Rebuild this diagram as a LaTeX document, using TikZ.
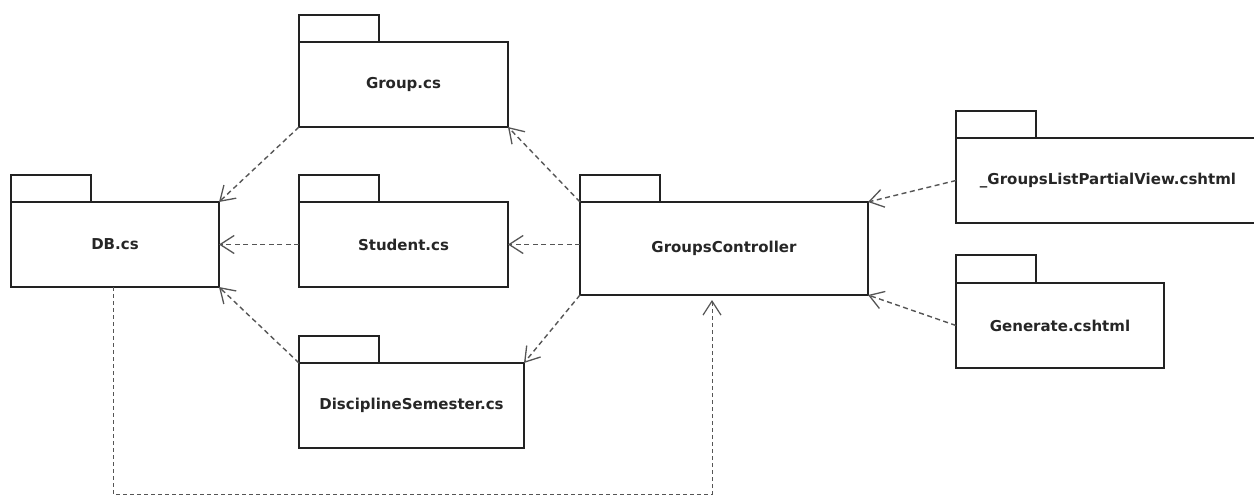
\documentclass[tikz,border=0pt]{standalone}
\usepackage{fontspec}
\setmainfont{DejaVu Sans}
\usetikzlibrary{arrows.meta}

\definecolor{edge}{HTML}{222222}
\definecolor{depline}{HTML}{555555}

\tikzset{
  pkg/.style={draw=edge, line width=1.3pt, rectangle, inner sep=0pt, outer sep=0pt,
    font=\fontsize{15}{18}\selectfont\bfseries, text=black!85},
  tab/.style={draw=edge, line width=1.3pt},
  dep/.style={draw=depline, line width=1.4pt, dash pattern=on 5pt off 3.5pt,
    -{Straight Barb[length=14pt,width=18pt,line width=1.3pt]}},
  deplong/.style={draw=depline, line width=1pt, dash pattern=on 4pt off 3pt,
    -{Straight Barb[length=14pt,width=18pt,line width=1.2pt]}}
}

% package symbol: body node plus a tab on its upper left corner
\newcommand{\umlpackage}[7]{%
  \node[pkg, minimum width=#4pt, minimum height=#5pt] (#1) at (#2,#3) {#6};
  \draw[tab] (#1.north west) rectangle ++(80,-#7);
}

\begin{document}
\begin{tikzpicture}[x=1pt, y=-1pt]
  \useasboundingbox[fill=white] (0,0) rectangle (1254,496);

  \umlpackage{db}{115}{244.5}{208}{85}{DB.cs}{27}
  \umlpackage{group}{403.5}{84.5}{209}{85}{Group.cs}{27}
  \umlpackage{student}{403.5}{244.5}{209}{85}{Student.cs}{27}
  \umlpackage{disc}{411.5}{405.5}{225}{85}{DisciplineSemester.cs}{27}
  \umlpackage{gc}{724}{248.5}{288}{93}{GroupsController}{27}
  \umlpackage{glpv}{1108}{180.5}{304}{85}{\_GroupsListPartialView.cshtml}{27}
  \umlpackage{gen}{1060}{325.5}{208}{85}{Generate.cshtml}{28}

  % dependencies
  \draw[dep] (group.south west) -- (db.north east);
  \draw[dep] (student.west) -- (db.east);
  \draw[dep] (disc.north west) -- (db.south east);
  \draw[dep] (gc.north west) -- (group.south east);
  \draw[dep] (gc.west |- student.west) -- (student.east);
  \draw[dep] (gc.south west) -- (disc.north east);
  \draw[dep] (glpv.west) -- (gc.north east);
  \draw[dep] (gen.west) -- (gc.south east);

  % DB.cs back to GroupsController
  \coordinate (turnL) at (113,494);
  \coordinate (turnR) at (712,494);
  \draw[deplong] (db.south -| turnL) -- (turnL) -- (turnR)
    -- ([yshift=-5pt]gc.south -| turnR);
\end{tikzpicture}
\end{document}
